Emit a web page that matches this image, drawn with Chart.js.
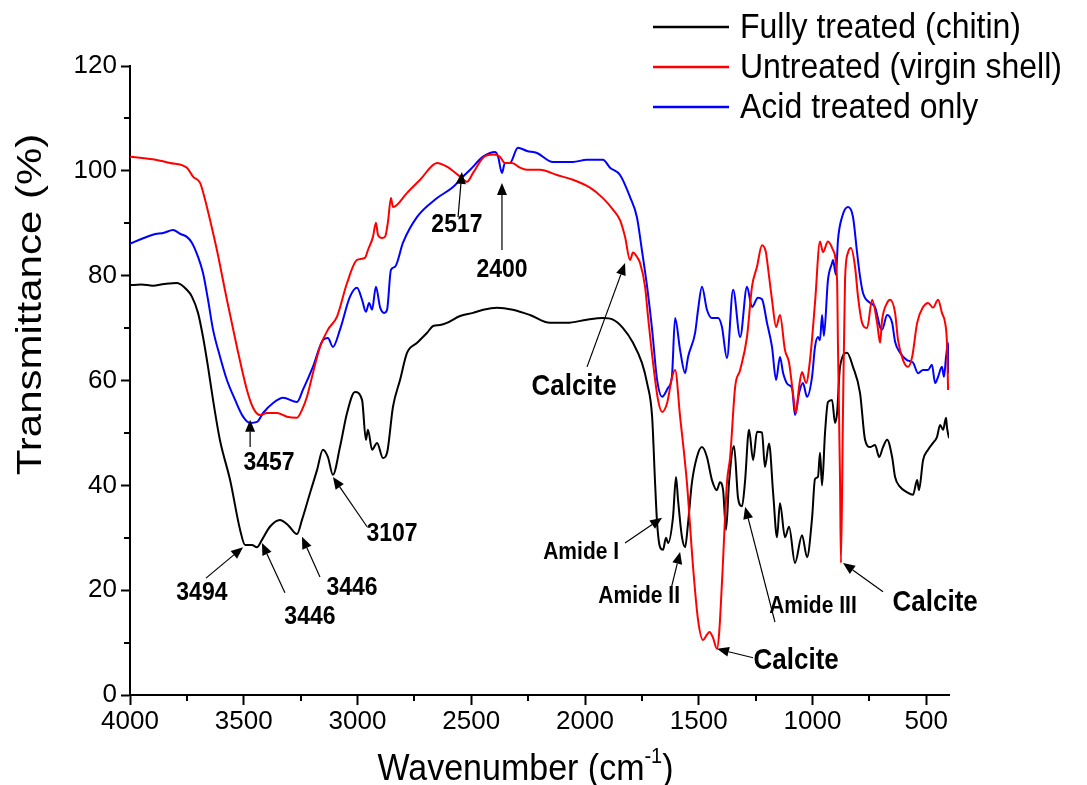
<!DOCTYPE html>
<html>
<head>
<meta charset="utf-8">
<title>FTIR spectra</title>
<script src="https://cdn.jsdelivr.net/npm/chart.js@4.4.1/dist/chart.umd.min.js"></script>
<style>
  html, body { margin: 0; padding: 0; background: #ffffff; }
  canvas { display: block; }
</style>
</head>
<body>
<canvas id="ftir" width="1087" height="785"></canvas>
<script>
// ---- Series: wavenumber (cm-1) and transmittance (%) ----
const seriesNames = ['Fully treated (chitin)', 'Untreated (virgin shell)', 'Acid treated only'];
const seriesColors = ['#000000', '#ff0000', '#0000ff'];

const chitinWn = [4000,3950,3900,3850,3793,3750,3728,3701,3679,3657,3635,3604,3560,3516,3494,3464,3442,3420,3385,3341,3305,3266,3244,3209,3178,3152,3130,3108,3077,3046,3011,2980,2963,2954,2936,2914,2888,2870,2844,2813,2782,2738,2694,2668,2637,2607,2549,2492,2448,2387,2317,2242,2154,2079,1992,1921,1877,1833,1789,1750,1727,1705,1692,1683,1670,1657,1644,1635,1613,1600,1591,1574,1560,1547,1530,1508,1486,1464,1442,1420,1407,1393,1380,1367,1345,1327,1310,1297,1279,1261,1244,1222,1209,1191,1173,1156,1143,1121,1103,1077,1046,1024,1002,989,976,967,958,945,932,914,901,892,879,848,822,791,769,747,725,707,690,672,650,637,615,585,558,540,532,514,492,470,453,439,426,413,409,400];
const chitinT  = [78.2,78.3,78.1,78.4,78.6,77.3,76.0,72.9,68.3,62.6,56.3,48.5,41.0,31.5,28.6,28.6,28.2,29.6,32.1,33.4,32.4,30.7,33.4,38.5,42.9,46.8,45.4,42.0,47.3,53.8,57.8,56.3,48.7,50.6,46.8,48.1,45.2,46.2,55.0,60.1,65.3,67.2,69.1,70.4,70.6,71.0,72.3,72.9,73.5,73.9,73.5,72.5,71.0,71.0,71.6,71.9,71.6,70.0,67.2,63.4,59.5,53.1,40.5,32.8,28.2,27.7,30.0,29.0,34.0,41.6,37.2,30.2,28.2,32.8,40.5,45.4,47.3,45.4,41.0,39.1,40.6,39.1,31.5,40.5,47.5,37.5,36.0,40.5,50.6,44.8,50.2,50.1,43.5,48.0,38.5,30.1,36.6,30.1,32.1,25.2,30.5,26.3,33.7,41.2,41.6,46.2,40.0,50.0,55.9,56.3,51.9,53.8,62.6,65.3,62.6,57.6,48.7,47.3,47.7,45.4,47.3,48.7,45.4,41.6,39.7,38.7,38.2,41.0,39.1,44.8,46.8,48.1,49.2,51.5,50.6,52.9,51.1,49.0];

const shellWn = [4000,3900,3824,3750,3723,3692,3670,3648,3618,3574,3530,3486,3459,3429,3398,3354,3310,3266,3244,3222,3196,3165,3130,3090,3046,3002,2967,2954,2932,2919,2910,2892,2879,2866,2853,2844,2782,2725,2650,2607,2549,2519,2492,2448,2404,2374,2352,2321,2286,2255,2198,2123,2053,1978,1921,1877,1846,1824,1802,1789,1772,1758,1736,1723,1701,1679,1661,1639,1618,1604,1582,1552,1525,1503,1481,1464,1453,1438,1420,1410,1398,1376,1362,1340,1318,1288,1266,1244,1222,1205,1200,1178,1160,1143,1121,1103,1086,1073,1059,1046,1028,1011,989,967,954,932,910,892,888,879,875,866,857,844,831,813,800,782,760,738,716,703,694,672,659,637,624,602,580,562,540,514,492,470,448,431,417,409,404];
const shellT  = [102.7,102.2,101.5,100.6,98.9,97.7,94.5,90.6,84.9,75.4,66.4,58.2,54.8,53.4,53.8,53.8,53.1,52.9,54.4,56.9,61.4,66.4,69.7,72.2,78.6,83.0,83.4,84.9,87.4,90.1,87.8,87.2,87.4,90.3,94.8,93.1,95.8,98.3,101.5,100.8,98.9,97.9,99.6,102.5,103.1,102.7,101.5,101.5,100.6,100.2,100.2,99.2,98.3,96.8,94.8,92.6,90.6,87.4,83.0,84.4,83.6,82.4,77.9,72.2,63.4,56.3,54.0,55.7,60.5,62.0,53.1,40.5,24.4,14.3,10.5,11.5,12.0,11.0,8.8,12.0,21.4,40.5,45.4,58.8,62.0,68.3,77.9,81.7,85.8,84.5,83.0,75.4,70.2,72.5,65.8,63.4,57.6,53.8,58.8,61.6,59.5,63.9,74.8,86.5,84.5,86.5,84.9,79.2,66.4,41.0,25.2,53.8,79.2,84.4,85.3,81.7,76.0,71.0,70.0,75.4,71.0,67.2,71.6,74.8,75.4,72.9,67.7,63.9,62.6,64.5,71.0,74.0,74.8,73.9,75.4,72.9,71.0,67.2,58.2];

const acidWn = [4000,3950,3900,3850,3811,3780,3750,3728,3701,3679,3657,3635,3604,3574,3538,3503,3472,3442,3415,3371,3327,3266,3240,3196,3152,3130,3108,3077,3033,3002,2980,2963,2949,2936,2919,2901,2883,2870,2853,2835,2800,2738,2650,2580,2541,2505,2448,2396,2382,2365,2352,2330,2295,2255,2211,2141,2053,1992,1921,1890,1846,1802,1772,1750,1727,1705,1683,1661,1635,1618,1604,1582,1560,1547,1516,1503,1486,1464,1442,1415,1398,1376,1349,1318,1288,1266,1240,1222,1200,1178,1160,1143,1129,1107,1090,1077,1059,1042,1024,1002,989,976,967,958,950,932,914,910,897,888,870,844,822,804,791,778,747,725,703,694,672,650,637,615,585,558,536,514,492,475,461,448,431,422,413,404,400];
const acidT  = [86.1,87.0,87.8,88.2,88.7,88.0,87.4,86.3,83.6,80.5,75.4,69.7,64.5,60.1,56.3,53.1,51.9,52.1,53.8,55.7,56.7,55.9,58.2,62.6,67.7,68.1,66.4,69.7,76.0,77.7,75.4,73.1,74.8,73.5,77.9,74.0,72.9,73.5,81.1,81.7,86.3,91.2,94.8,96.9,98.7,100.2,102.7,103.6,102.7,99.6,101.5,101.5,104.4,103.8,103.4,101.7,101.7,102.1,102.1,100.6,99.2,95.0,91.2,84.9,77.9,69.7,60.1,56.9,58.6,60.7,71.9,65.8,61.4,64.5,69.1,73.5,77.9,73.5,71.9,71.9,70.2,64.3,77.3,68.3,77.9,74.0,75.8,75.5,71.0,66.4,60.1,64.5,61.4,59.2,58.6,53.4,57.6,59.5,56.9,60.7,66.4,68.3,67.7,72.5,68.5,79.2,82.4,83.0,80.2,86.8,91.2,93.1,91.2,84.4,79.8,76.7,74.8,74.0,70.2,69.7,72.5,71.0,67.4,65.3,63.9,63.4,61.4,62.0,62.0,63.0,59.5,60.7,62.6,60.7,64.5,67.2,61.4];

// ---- Axis tick labels ----
const xTickLabels = [4000, 3500, 3000, 2500, 2000, 1500, 1000, 500];
const yTickLabels = [0, 20, 40, 60, 80, 100, 120];

// ---- Band assignments: arrow tip, arrow tail and label anchor, in (cm-1, %) ----
const bandNotes = [
  { text: '3457',      tip: [3472, 52.5], tail: [3472, 47.3], at: [3389, 44.3], kind: 'num' },
  { text: '3494',      tip: [3503, 28.2], tail: [3666, 22.3], at: [3684, 19.5], kind: 'num' },
  { text: '3446',      tip: [3420, 29.0], tail: [3319, 19.5], at: [3209, 14.9], kind: 'num' },
  { text: '3446',      tip: [3244, 30.2], tail: [3165, 22.5], at: [3024, 20.4], kind: 'num' },
  { text: '3107',      tip: [3108, 41.6], tail: [2958, 32.1], at: [2848, 30.7], kind: 'num' },
  { text: '2517',      tip: [2541, 99.8], tail: [2558, 91.2], at: [2563, 89.7], kind: 'num' },
  { text: '2400',      tip: [2365, 97.7], tail: [2365, 84.9], at: [2365, 81.1], kind: 'num' },
  { text: 'Calcite',   tip: [1824, 82.4], tail: [1991, 62.6], at: [2048, 58.8], kind: 'big' },
  { text: 'Amide I',   tip: [1661, 33.8], tail: [1824, 29.0], at: [2017, 27.1], kind: 'amide' },
  { text: 'Amide II',  tip: [1582, 27.3], tail: [1626, 19.5], at: [1762, 18.7], kind: 'amide' },
  { text: 'Amide III', tip: [1296, 35.9], tail: [1165, 13.9], at: [998, 16.8],  kind: 'amide' },
  { text: 'Calcite',   tip: [1420, 8.8],  tail: [1261, 7.1],  at: [1072, 6.5],  kind: 'big' },
  { text: 'Calcite',   tip: [866, 25.2],  tail: [690, 19.7],  at: [461, 17.6],  kind: 'big' }
];

const FONT = "'Liberation Sans', Arial, Helvetica, sans-serif";
const noteFonts = { num: 'bold 23px ' + FONT, big: 'bold 26px ' + FONT, amide: 'bold 21px ' + FONT };

function toPoints(wn, t) {
  return wn.map((w, i) => ({ x: w, y: t[i] }));
}

function makeSet(i, wn, t, order) {
  return {
    label: seriesNames[i],
    data: toPoints(wn, t),
    borderColor: seriesColors[i],
    backgroundColor: seriesColors[i],
    borderWidth: 2,
    pointRadius: 0,
    cubicInterpolationMode: 'monotone',
    fill: false,
    order: order
  };
}

// Text drawn with a slightly taller glyph shape
function tallText(ctx, text, x, y, sy) {
  ctx.save();
  ctx.translate(x, y);
  ctx.scale(1, sy);
  ctx.fillText(text, 0, 0);
  ctx.restore();
}

// Long-line legend in the top-right corner
const legendPlugin = {
  id: 'cornerLegend',
  afterDraw(chart) {
    const ctx = chart.ctx;
    ctx.save();
    ctx.font = '32px ' + FONT;
    ctx.textBaseline = 'middle';
    ctx.textAlign = 'left';
    chart.data.datasets.forEach((ds, i) => {
      const y = 27 + i * 40;
      ctx.strokeStyle = ds.borderColor;
      ctx.lineWidth = 2.5;
      ctx.beginPath();
      ctx.moveTo(653, y);
      ctx.lineTo(729, y);
      ctx.stroke();
      ctx.fillStyle = '#000';
      tallText(ctx, ds.label, 740, y + 1, 1.1);
    });
    ctx.restore();
  }
};

// Short minor tick marks between the labelled ticks
const minorTickPlugin = {
  id: 'minorTicks',
  afterDraw(chart) {
    const { ctx, chartArea: a } = chart;
    const xs = chart.scales.x, ys = chart.scales.y;
    ctx.save();
    ctx.strokeStyle = '#000';
    ctx.lineWidth = 2;
    ctx.beginPath();
    xs.ticks.forEach(t => {
      if (!xTickLabels.includes(t.value)) {
        const px = Math.round(xs.getPixelForValue(t.value));
        ctx.moveTo(px, a.bottom);
        ctx.lineTo(px, a.bottom + 6);
      }
    });
    ys.ticks.forEach(t => {
      if (!yTickLabels.includes(t.value)) {
        const py = Math.round(ys.getPixelForValue(t.value));
        ctx.moveTo(a.left, py);
        ctx.lineTo(a.left - 6, py);
      }
    });
    ctx.stroke();
    ctx.restore();
  }
};

// Axis titles, including the superscript in the wavenumber unit
const axisTitlePlugin = {
  id: 'axisTitles',
  afterDraw(chart) {
    const { ctx, chartArea: a } = chart;
    ctx.save();
    ctx.fillStyle = '#000';
    ctx.textBaseline = 'alphabetic';
    ctx.textAlign = 'left';

    // x title
    const main = 'Wavenumber (cm';
    const sup = '-1';
    const close = ')';
    ctx.font = '34px ' + FONT;
    const wMain = ctx.measureText(main).width;
    const wClose = ctx.measureText(close).width;
    ctx.font = '20px ' + FONT;
    const wSup = ctx.measureText(sup).width;
    const total = wMain + wSup + wClose;
    const cx = (a.left + a.right) / 2 - 14;
    const base = 780;
    let x = cx - total / 2;
    ctx.font = '34px ' + FONT;
    tallText(ctx, main, x, base, 1.08);
    x += wMain;
    ctx.font = '20px ' + FONT;
    tallText(ctx, sup, x, base - 17, 1.08);
    x += wSup;
    ctx.font = '34px ' + FONT;
    tallText(ctx, close, x, base, 1.08);

    // y title
    ctx.translate(31, (a.top + a.bottom) / 2 - 76);
    ctx.rotate(-Math.PI / 2);
    ctx.scale(1.2, 1);
    ctx.font = '35px ' + FONT;
    ctx.textAlign = 'center';
    ctx.textBaseline = 'middle';
    ctx.fillText('Transmittance (%)', 0, 0);
    ctx.restore();
  }
};

// Arrows and band labels
const bandNotePlugin = {
  id: 'bandNotes',
  afterDatasetsDraw(chart) {
    const ctx = chart.ctx;
    const xs = chart.scales.x, ys = chart.scales.y;
    ctx.save();
    ctx.strokeStyle = '#000';
    ctx.fillStyle = '#000';
    bandNotes.forEach(n => {
      const tx = xs.getPixelForValue(n.tip[0]), ty = ys.getPixelForValue(n.tip[1]);
      const fx = xs.getPixelForValue(n.tail[0]), fy = ys.getPixelForValue(n.tail[1]);
      const ang = Math.atan2(ty - fy, tx - fx);
      const head = 12, half = 5;
      const bx = tx - head * Math.cos(ang), by = ty - head * Math.sin(ang);
      ctx.lineWidth = 1.2;
      ctx.beginPath();
      ctx.moveTo(fx, fy);
      ctx.lineTo(bx, by);
      ctx.stroke();
      ctx.beginPath();
      ctx.moveTo(tx, ty);
      ctx.lineTo(bx + half * Math.sin(ang), by - half * Math.cos(ang));
      ctx.lineTo(bx - half * Math.sin(ang), by + half * Math.cos(ang));
      ctx.closePath();
      ctx.fill();

      ctx.font = noteFonts[n.kind];
      ctx.textAlign = 'center';
      ctx.textBaseline = 'middle';
      tallText(ctx, n.text, xs.getPixelForValue(n.at[0]), ys.getPixelForValue(n.at[1]), 1.1);
    });
    ctx.restore();
  }
};

Chart.defaults.font.family = FONT;
Chart.defaults.color = '#000';

new Chart(document.getElementById('ftir'), {
  type: 'line',
  data: {
    datasets: [
      makeSet(0, chitinWn, chitinT, 2),
      makeSet(1, shellWn, shellT, 0),
      makeSet(2, acidWn, acidT, 1)
    ]
  },
  options: {
    responsive: false,
    animation: false,
    devicePixelRatio: 1,
    layout: { padding: { top: 66, right: 138, left: 0, bottom: 0 } },
    plugins: { legend: { display: false }, tooltip: { enabled: false } },
    scales: {
      x: {
        type: 'linear',
        reverse: true,
        min: 400,
        max: 4000,
        afterFit(s) { s.height = 90; },
        border: { display: true, color: '#000', width: 2 },
        grid: {
          drawOnChartArea: false,
          drawTicks: true,
          tickLength: 10,
          tickWidth: 2,
          tickColor: c => (c.tick && xTickLabels.includes(c.tick.value)) ? '#000' : 'rgba(0,0,0,0)'
        },
        ticks: {
          stepSize: 250,
          includeBounds: false,
          autoSkip: false,
          maxRotation: 0,
          padding: 1,
          font: { size: 26 },
          callback: v => xTickLabels.includes(v) ? String(v) : ''
        }
      },
      y: {
        min: 0,
        max: 120,
        afterFit(s) { s.width = 130; },
        border: { display: true, color: '#000', width: 2 },
        grid: {
          drawOnChartArea: false,
          drawTicks: true,
          tickLength: 9,
          tickWidth: 2,
          tickColor: c => (c.tick && yTickLabels.includes(c.tick.value)) ? '#000' : 'rgba(0,0,0,0)'
        },
        ticks: {
          stepSize: 10,
          autoSkip: false,
          padding: 4,
          font: { size: 26 },
          callback: v => yTickLabels.includes(v) ? String(v) : ''
        }
      }
    }
  },
  plugins: [bandNotePlugin, minorTickPlugin, axisTitlePlugin, legendPlugin]
});
</script>
</body>
</html>
